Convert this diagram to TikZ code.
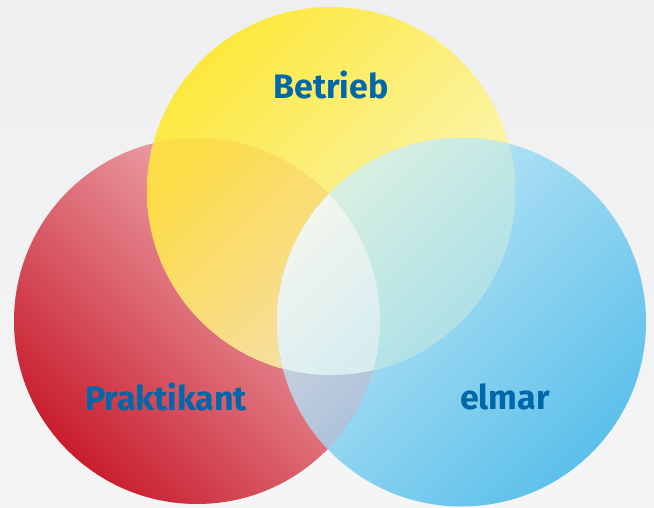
\documentclass[tikz,border=0pt]{standalone}
\usepackage{fontspec}
\newfontfamily\labelfont{Fira Sans}
\definecolor{labelblue}{RGB}{0,104,170}
\definecolor{bgtop}{HTML}{EEEFF0}
\definecolor{bgbottom}{HTML}{F5F5F5}
\definecolor{redlight}{HTML}{F4C0C4}
\definecolor{reddark}{HTML}{C81E2E}
\definecolor{yellowdark}{HTML}{FCE83C}
\definecolor{yellowlight}{HTML}{FBF8CC}
\definecolor{bluelight}{HTML}{C6EAF8}
\definecolor{bluedark}{HTML}{5CC0EA}
\definecolor{rydark}{HTML}{FCDC48}
\definecolor{rylight}{HTML}{F6DEAC}
\definecolor{yblight}{HTML}{DEF2E0}
\definecolor{ybdark}{HTML}{A8DEE8}
\definecolor{rblight}{HTML}{C4CEDD}
\definecolor{rbdark}{HTML}{A0BDD8}
\definecolor{centerlight}{HTML}{F4F6EE}
\definecolor{centerdark}{HTML}{D8EDF0}
\begin{document}
\begin{tikzpicture}[x=1pt, y=-1pt]
    \tikzstyle{set label} = [font=\labelfont\bfseries\fontsize{34}{40}\selectfont, text=labelblue, anchor=base]
    \shade[top color=bgtop, bottom color=bgbottom] (0, 0) rectangle (654, 507);
    \useasboundingbox (0, 0) rectangle (654, 507);
    \coordinate (red) at (197, 321);
    \coordinate (yellow) at (331, 191);
    \coordinate (blue) at (461.5, 322);
    % the three sets
    \shade[top color=redlight, bottom color=reddark, shading angle=-45] (red) circle[radius=183pt];
    \shade[top color=bluelight, bottom color=bluedark, shading angle=45] (blue) circle[radius=184.5pt];
    \shade[top color=yellowdark, bottom color=yellowlight, shading angle=45] (yellow) circle[radius=184pt];
    % pairwise overlaps
    \begin{scope}
        \clip (red) circle[radius=183pt];
        \clip (yellow) circle[radius=184pt];
        \shade[top color=rydark, bottom color=rylight, shading angle=45] (147, 139) rectangle (380, 375);
    \end{scope}
    \begin{scope}
        \clip (yellow) circle[radius=184pt];
        \clip (blue) circle[radius=184.5pt];
        \shade[top color=yblight, bottom color=ybdark, shading angle=45] (277, 138) rectangle (515, 375);
    \end{scope}
    \begin{scope}
        \clip (red) circle[radius=183pt];
        \clip (blue) circle[radius=184.5pt];
        \shade[top color=rblight, bottom color=rbdark, shading angle=45] (277, 340) rectangle (380, 505);
    \end{scope}
    % all three
    \begin{scope}
        \clip (red) circle[radius=183pt];
        \clip (yellow) circle[radius=184pt];
        \clip (blue) circle[radius=184.5pt];
        \shade[top color=centerlight, bottom color=centerdark, shading angle=45] (277, 190) rectangle (380, 375);
    \end{scope}
    \node[set label] (betrieb) at (331, 98) {Betrieb};
    \node[set label] (praktikant) at (166, 410) {Praktikant};
    \node[set label] (elmar) at (505, 409) {elmar};
\end{tikzpicture}
\end{document}
